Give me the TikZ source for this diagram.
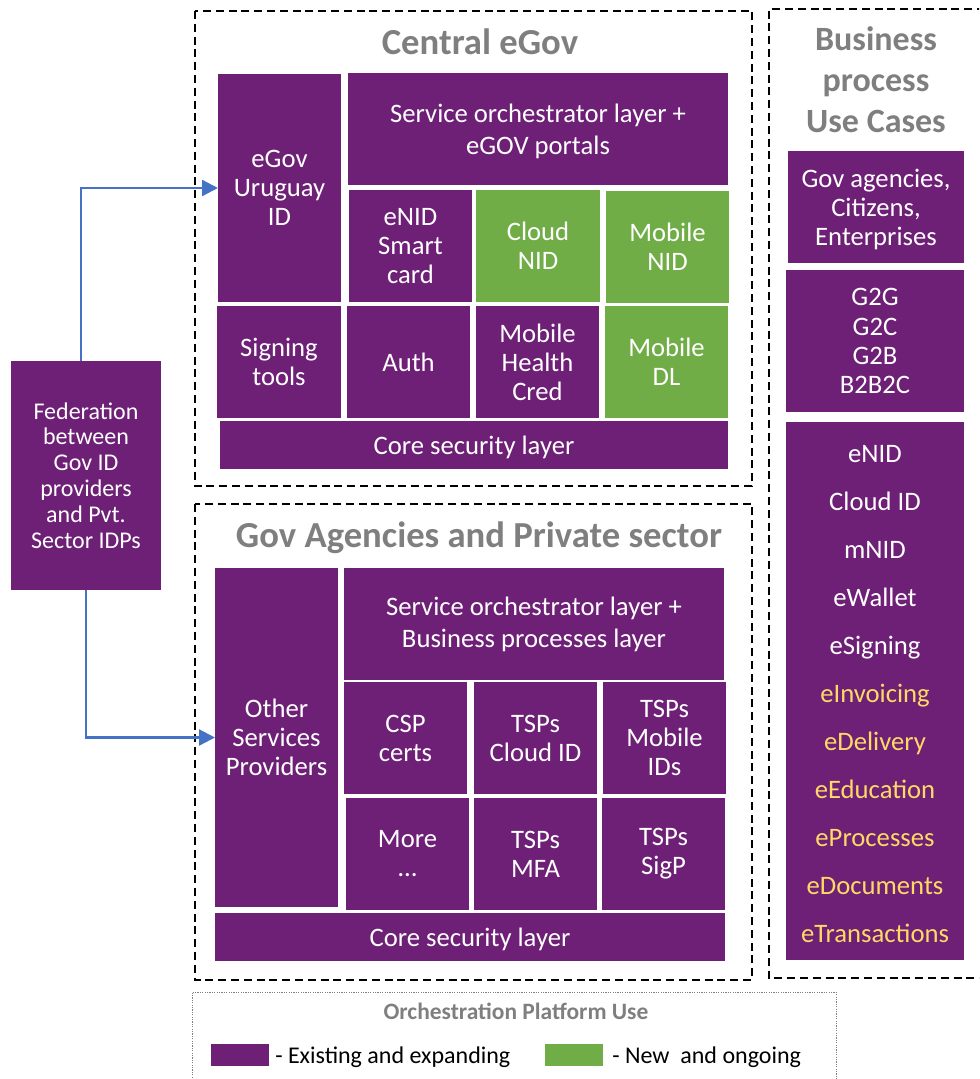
\documentclass[tikz,border=0pt]{standalone}
\usepackage{fontspec}
\setmainfont{Carlito}
\usetikzlibrary{arrows.meta}
\definecolor{pp}{HTML}{6E1F76}
\definecolor{gn}{HTML}{70AD47}
\definecolor{ttl}{HTML}{7F7F7F}
\definecolor{yl}{HTML}{FFD966}
\definecolor{ar}{HTML}{4472C4}
\tikzset{
 x=0.75pt,y=-0.75pt,
 block/.style={anchor=center,inner sep=0pt,outer sep=0pt,align=center,text=white,font=\fontsize{20}{21.8}\selectfont},
 widelines/.style={font=\fontsize{20}{24}\selectfont},
 panel/.style={draw=black,line width=1.1pt,dash pattern=on 6pt off 3.6pt},
 heading/.style={text=ttl,align=center,inner sep=0pt,font=\fontsize{27.5}{30.7}\selectfont\bfseries},
 link/.style={draw=ar,line width=1.7pt,-{Triangle[length=12pt,width=12pt]}},
 legendtext/.style={anchor=west,inner sep=0pt,text=black,font=\fontsize{18}{20}\selectfont},
}
\newcommand\bx[7][]{%
 \pgfmathsetmacro\boxw{(#4-#2)*0.75}\pgfmathsetmacro\boxh{(#5-#3)*0.75}%
 \node[block,fill=#6,minimum width=\boxw pt,minimum height=\boxh pt,#1] (#7) at ({(#2+#4)/2},{(#3+#5)/2})}
\newcommand\lowered{\rule{0pt}{17.6pt}}
\begin{document}
\begin{tikzpicture}
\useasboundingbox (0,0) rectangle (979,1079);
\clip (0,0) rectangle (979,1079);
% panels
\draw[panel] (195,11) rectangle (752,486);
\draw[panel] (195,504) rectangle (752,980);
\draw[panel] (985,9) -- (769,9) -- (769,978) -- (985,978);
\node[heading] (t1) at (480,42) {Central eGov};
\node[heading] (t2) at (479,538) {Gov Agencies and Private sector};
\node[heading,font=\fontsize{25.5}{30.7}\selectfont\bfseries] (t3) at (876,80) {Business\\process\\Use Cases};
% central
\bx{218}{74}{341}{302}{pp}{egov} {eGov\\Uruguay\\ID};
\bx[widelines]{348}{73}{728}{185}{pp}{orch1} {\lowered Service orchestrator layer +\\eGOV portals};
\bx{349}{190}{472}{302}{pp}{enid} {eNID\\Smart\\card};
\bx{476}{190}{600}{302}{gn}{cloud} {Cloud\\NID};
\bx{606}{191}{729}{303}{gn}{mobnid} {Mobile\\NID};
\bx{217}{306}{341}{418}{pp}{sign} {Signing\\tools};
\bx{347}{306}{470}{418}{pp}{auth} {Auth};
\bx{476}{306}{599}{418}{pp}{health} {Mobile\\Health\\Cred};
\bx{605}{306}{728}{418}{gn}{dl} {Mobile\\DL};
\bx{220}{421}{728}{469}{pp}{core1} {\lowered Core security layer};
% agencies
\bx{215}{568}{338}{907}{pp}{other} {Other\\Services\\Providers};
\bx[widelines]{344}{568}{724}{680}{pp}{orch2} {Service orchestrator layer +\\Business processes layer};
\bx{344}{682}{467}{794}{pp}{csp} {CSP\\certs};
\bx{474}{682}{597}{794}{pp}{tspc} {TSPs\\Cloud ID};
\bx{603}{682}{726}{794}{pp}{tspm} {TSPs\\Mobile\\IDs};
\bx{346}{798}{469}{910}{pp}{more} {More\\…};
\bx{474}{798}{597}{910}{pp}{mfa} {TSPs\\MFA};
\bx{602}{798}{725}{910}{pp}{sigp} {TSPs\\SigP};
\bx{215}{913}{725}{961}{pp}{core2} {\lowered Core security layer};
% right
\bx{788}{151}{964}{263}{pp}{users} {\lowered Gov agencies,\\Citizens,\\Enterprises};
\bx{786}{270}{964}{412}{pp}{gtg} {G2G\\G2C\\G2B\\B2B2C};
\bx[font=\fontsize{20}{36}\selectfont]{786}{422}{964}{960}{pp}{list} {\lowered eNID\\Cloud ID\\mNID\\eWallet\\eSigning\\\textcolor{yl}{eInvoicing}\\\textcolor{yl}{eDelivery}\\\textcolor{yl}{eEducation}\\\textcolor{yl}{eProcesses}\\\textcolor{yl}{eDocuments}\\\textcolor{yl}{eTransactions}};
% federation
\bx[font=\fontsize{18}{19.4}\selectfont]{11}{361}{161}{590}{pp}{fed} {Federation\\between\\Gov ID\\providers\\and Pvt.\\Sector IDPs};
\draw[link] (fed.north west) ++(70,0) |- (egov.west);
\draw[link] (fed.south west) ++(75,0) |- (other.west);
% legend
\draw[draw=ttl,line width=0.75pt,dash pattern=on 0.9pt off 0.9pt] (192,1085) -- (192,992) -- (836,992) -- (836,1085);
\node[text=ttl,inner sep=0pt,font=\fontsize{17.6}{20}\selectfont\bfseries] (lt) at (516,1011) {Orchestration Platform Use};
\bx{211}{1044}{269}{1066}{pp}{sw1} {};
\bx{545}{1044}{603}{1066}{gn}{sw2} {};
\node[legendtext] (l1) at (275,1057) {- Existing and expanding};
\node[legendtext] (l2) at (612,1057) {- New\ \ and ongoing};
\end{tikzpicture}
\end{document}
